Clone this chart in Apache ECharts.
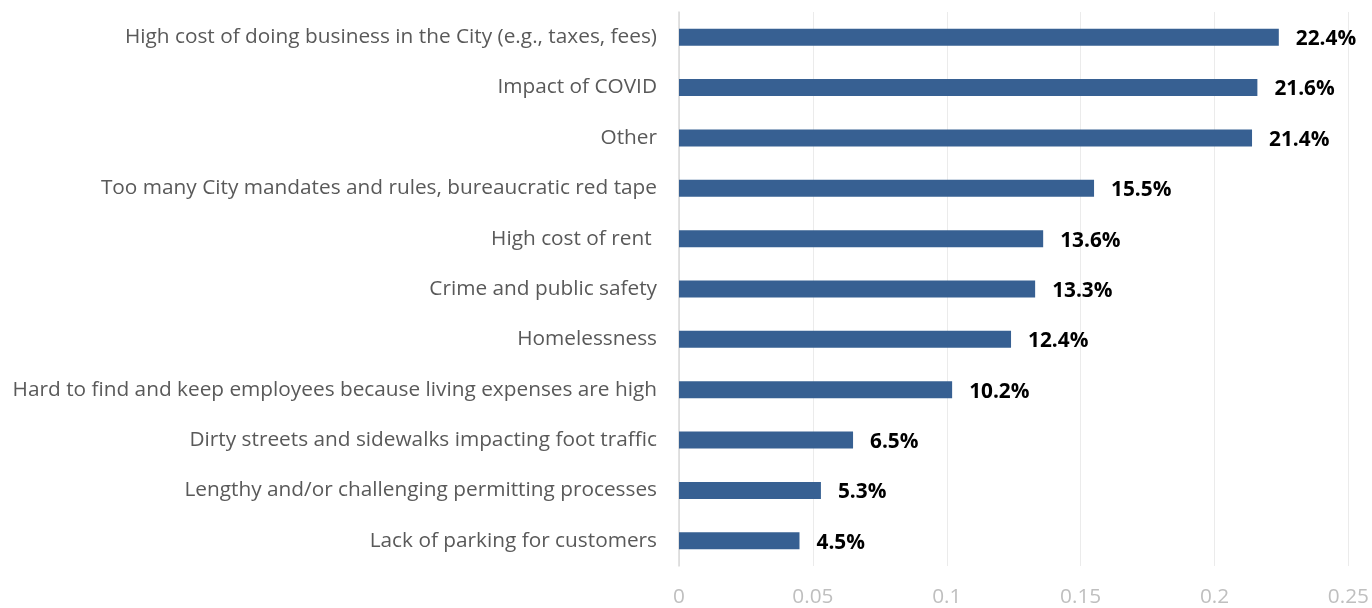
<!DOCTYPE html>
<html>
<head>
<meta charset="utf-8">
<script src="https://cdn.jsdelivr.net/npm/echarts@6/dist/echarts.min.js"></script>
<style>
  html, body { margin: 0; padding: 0; background: #ffffff; }
  #chart { width: 1372px; height: 608px; }
</style>
</head>
<body>
<div id="chart"></div>
<script>
// Reasons cited as business challenges, with share of respondents
const categories = [
  'High cost of doing business in the City (e.g., taxes, fees)',
  'Impact of COVID',
  'Other',
  'Too many City mandates and rules, bureaucratic red tape',
  'High cost of rent ',
  'Crime and public safety',
  'Homelessness',
  'Hard to find and keep employees because living expenses are high',
  'Dirty streets and sidewalks impacting foot traffic',
  'Lengthy and/or challenging permitting processes',
  'Lack of parking for customers'
];
const shares = [0.224, 0.216, 0.214, 0.155, 0.136, 0.133, 0.124, 0.102, 0.065, 0.053, 0.045];
const xTicks = { min: 0, max: 0.25, interval: 0.05 };

const FONT = '"Open Sans", Lato, "Noto Sans", sans-serif';

const chart = echarts.init(document.getElementById('chart'), null, { renderer: 'canvas' });
chart.setOption({
  animation: false,
  backgroundColor: '#ffffff',
  grid: { left: 679, right: 23, top: 12, bottom: 41, containLabel: false },
  xAxis: {
    type: 'value',
    min: xTicks.min,
    max: xTicks.max,
    interval: xTicks.interval,
    axisLine: { show: false },
    axisTick: { show: false },
    splitLine: { show: true, lineStyle: { color: '#ebebeb', width: 1 } },
    axisLabel: {
      color: '#bfbfbf',
      fontSize: 20.8,
      fontFamily: FONT,
      margin: 21,
      formatter: v => String(+v.toFixed(2))
    }
  },
  yAxis: {
    type: 'category',
    inverse: true,
    data: categories,
    axisLine: { show: true, lineStyle: { color: '#d9d9d9', width: 1.5 } },
    axisTick: { show: false },
    axisLabel: {
      color: '#595959',
      fontSize: 20.8,
      fontFamily: FONT,
      margin: 22,
      padding: [4, 0, 0, 0]
    }
  },
  series: [{
    type: 'bar',
    data: shares,
    barWidth: 17,
    itemStyle: { color: '#376092' },
    label: {
      show: true,
      position: 'right',
      distance: 17,
      offset: [0, 2],
      color: '#000000',
      fontWeight: 'bold',
      fontSize: 20.8,
      fontFamily: FONT,
      formatter: p => (p.value * 100).toFixed(1) + '%'
    }
  }]
});
</script>
</body>
</html>
